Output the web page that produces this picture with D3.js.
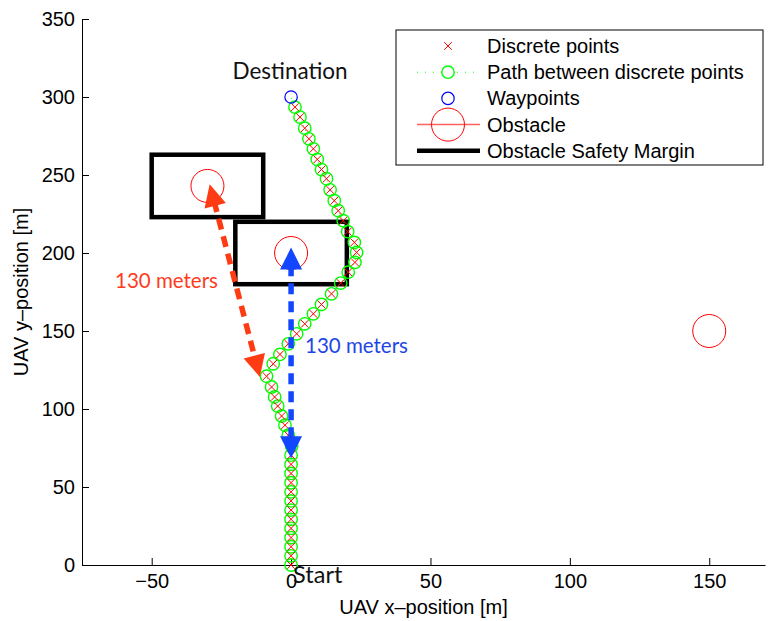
<!DOCTYPE html>
<html>
<head>
<meta charset="utf-8">
<script src="https://cdn.jsdelivr.net/npm/d3@7"></script>
<style>
  body { margin: 0; background: #fff; }
  svg { display: block; }
</style>
</head>
<body>
<svg id="chart" width="770" height="621"></svg>
<script>
// discrete points of the planned path [m]
const pathX = [0, 0, 0, 0, 0, 0, 0, 0, 0, 0, 0, 0, 0, 0.2,
  -1.0, -2.2, -3.4, -4.8, -5.9, -7.0, -8.8,
  -6.4, -4.0, -1.0, 2.0, 4.9, 8.0, 10.9, 14.5, 17.8, 20.5, 22.9, 23.5,
  22.7, 20.3, 18.7, 16.9, 15.5, 14.0, 12.7, 10.9, 9.4, 8.0, 6.4, 4.9, 3.2, 1.4];
const pathY = [0, 5.9, 11.7, 17.6, 23.5, 29.3, 35.2, 41.1, 46.9, 52.8, 58.7, 64.5, 70.4, 76.3,
  83.2, 89.6, 95.5, 101.9, 107.7, 114.1, 121.0,
  129.0, 135.0, 141.8, 148.2, 154.6, 161.0, 167.0, 173.8, 180.7, 187.7, 194.0, 200.4,
  206.8, 213.7, 220.7, 227.1, 233.5, 240.5, 247.6, 253.5, 260.0, 266.8, 273.2, 280.0, 287.1, 293.5];

const waypointX = [0];
const waypointY = [300];

const obstacleX = [-30, 0, 150];
const obstacleY = [243, 200, 150];

// safety margin boxes (lower-left corner, size) [m]
const marginX = [-50, -20];
const marginY = [223, 180];
const marginW = [40, 40];
const marginH = [40, 40];

// distance annotations: from (x1,y1) to (x2,y2)
const arrowX1 = [-29.2, 0];
const arrowY1 = [244, 203.5];
const arrowX2 = [-11.2, 0];
const arrowY2 = [120.5, 68.5];
const arrowColor = ["#ff3b14", "#1246ff"];

const xTicks = [-50, 0, 50, 100, 150];
const yTicks = [0, 50, 100, 150, 200, 250, 300, 350];

const legendLabels = ["Discrete points", "Path between discrete points", "Waypoints",
  "Obstacle", "Obstacle Safety Margin"];

const svg = d3.select("#chart");
const x = d3.scaleLinear().domain([-75, 170]).range([82, 765]);
const y = d3.scaleLinear().domain([0, 350]).range([565, 19]);

const axisFont = "'Liberation Sans', Arial, Helvetica, sans-serif";
const noteFont = "Lato, 'Open Sans', sans-serif";

// axes, matlab style: ticks pointing inside, no box
const gx = svg.append("g")
  .attr("transform", `translate(0,${y(0)})`)
  .call(d3.axisBottom(x).tickValues(xTicks).tickSizeInner(-7).tickSizeOuter(0).tickPadding(9));
const gy = svg.append("g")
  .attr("transform", `translate(${x(-75)},0)`)
  .call(d3.axisLeft(y).tickValues(yTicks).tickSizeInner(-7).tickSizeOuter(0).tickPadding(7));
[gx, gy].forEach(g => {
  g.selectAll("text").style("font-family", axisFont).style("font-size", "20px").attr("fill", "#000");
  g.select(".domain").attr("stroke", "#000");
});

svg.append("text")
  .attr("x", (x(-75) + x(170)) / 2).attr("y", 614)
  .attr("text-anchor", "middle")
  .style("font-family", axisFont).style("font-size", "20px")
  .text("UAV x\u2013position [m]");
svg.append("text")
  .attr("transform", `translate(28,${(y(0) + y(350)) / 2}) rotate(-90)`)
  .attr("text-anchor", "middle")
  .style("font-family", axisFont).style("font-size", "20px")
  .text("UAV y\u2013position [m]");

const plot = svg.append("g");

// safety margins
plot.selectAll("rect.margin")
  .data(marginX.map((d, i) => ({ x: d, y: marginY[i], w: marginW[i], h: marginH[i] })))
  .join("rect")
  .attr("class", "margin")
  .attr("x", d => x(d.x))
  .attr("y", d => y(d.y + d.h))
  .attr("width", d => x(d.x + d.w) - x(d.x))
  .attr("height", d => y(d.y) - y(d.y + d.h))
  .attr("fill", "none")
  .attr("stroke", "#000")
  .attr("stroke-width", 4.5);

// obstacles
plot.selectAll("circle.obs")
  .data(obstacleX.map((d, i) => [d, obstacleY[i]]))
  .join("circle")
  .attr("cx", d => x(d[0])).attr("cy", d => y(d[1]))
  .attr("r", 16.5)
  .attr("fill", "none").attr("stroke", "#ff0000").attr("stroke-width", 1);

// path between discrete points
const pts = pathX.map((d, i) => [d, pathY[i]]);
const fullPath = pts.concat(waypointX.map((d, i) => [d, waypointY[i]]));
plot.append("path")
  .attr("d", d3.line().x(d => x(d[0])).y(d => y(d[1]))(fullPath))
  .attr("fill", "none").attr("stroke", "#00ff00").attr("stroke-width", 1)
  .attr("stroke-dasharray", "1,4");

plot.selectAll("circle.pth")
  .data(pts)
  .join("circle")
  .attr("cx", d => x(d[0])).attr("cy", d => y(d[1]))
  .attr("r", 6.2)
  .attr("fill", "none").attr("stroke", "#00ff00").attr("stroke-width", 1.4);

function cross(g, cx, cy, s) {
  g.append("path")
    .attr("d", `M${cx - s},${cy - s}L${cx + s},${cy + s}M${cx - s},${cy + s}L${cx + s},${cy - s}`)
    .attr("stroke", "#ff0000").attr("stroke-width", 1).attr("fill", "none");
}
pts.forEach(d => cross(plot, x(d[0]), y(d[1]), 3.8));

// waypoints
plot.selectAll("circle.wp")
  .data(waypointX.map((d, i) => [d, waypointY[i]]))
  .join("circle")
  .attr("cx", d => x(d[0])).attr("cy", d => y(d[1]))
  .attr("r", 6.2)
  .attr("fill", "none").attr("stroke", "#0000ff").attr("stroke-width", 1.2);

// double headed dashed arrows
const headL = 22, headW = 22;
arrowX1.forEach((d, i) => {
  const p1 = [x(d), y(arrowY1[i])];
  const p2 = [x(arrowX2[i]), y(arrowY2[i])];
  const len = Math.hypot(p2[0] - p1[0], p2[1] - p1[1]);
  const ux = (p2[0] - p1[0]) / len, uy = (p2[1] - p1[1]) / len;
  plot.append("line")
    .attr("x1", p1[0] + ux * headL * 0.8).attr("y1", p1[1] + uy * headL * 0.8)
    .attr("x2", p2[0] - ux * headL * 0.8).attr("y2", p2[1] - uy * headL * 0.8)
    .attr("stroke", arrowColor[i]).attr("stroke-width", 5.5)
    .attr("stroke-dasharray", "11,7");
  // heads
  [[p1, -1], [p2, 1]].forEach(([tip, s]) => {
    const bx = tip[0] - s * ux * headL, by = tip[1] - s * uy * headL;
    const nx = -uy * headW / 2, ny = ux * headW / 2;
    plot.append("path")
      .attr("d", `M${tip[0]},${tip[1]}L${bx + nx},${by + ny}L${bx - nx},${by - ny}Z`)
      .attr("fill", arrowColor[i]);
  });
});

// annotation texts
svg.append("text").attr("x", 115).attr("y", 288)
  .style("font-family", noteFont).style("font-size", "20.5px").attr("fill", "#ff3b1e")
  .text("130 meters");
svg.append("text").attr("x", 305).attr("y", 353)
  .style("font-family", noteFont).style("font-size", "20.5px").attr("fill", "#1e46e6")
  .text("130 meters");
svg.append("text").attr("x", x(0) - 1).attr("y", 79)
  .attr("text-anchor", "middle")
  .style("font-family", noteFont).style("font-size", "22.5px").attr("fill", "#111")
  .text("Destination");
svg.append("text").attr("x", x(0) + 2).attr("y", 583)
  .style("font-family", noteFont).style("font-size", "23.5px").attr("fill", "#111")
  .text("Start");

// legend
const lg = svg.append("g").attr("transform", "translate(396,30)");
lg.append("rect").attr("width", 367).attr("height", 135)
  .attr("fill", "#fff").attr("stroke", "#000").attr("stroke-width", 1);
const rowY = i => 16 + i * 26.2;
const mx = 52;
legendLabels.forEach((t, i) => {
  lg.append("text").attr("x", 91).attr("y", rowY(i) + 7)
    .style("font-family", axisFont).style("font-size", "20px")
    .text(t);
});
cross(lg, mx, rowY(0), 3.8);
lg.append("line").attr("x1", 21).attr("x2", 84).attr("y1", rowY(1)).attr("y2", rowY(1))
  .attr("stroke", "#00ff00").attr("stroke-dasharray", "1,7");
lg.append("circle").attr("cx", mx).attr("cy", rowY(1)).attr("r", 6.2)
  .attr("fill", "#fff").attr("stroke", "#00ff00").attr("stroke-width", 1.4);
lg.append("circle").attr("cx", mx).attr("cy", rowY(2)).attr("r", 6.2)
  .attr("fill", "none").attr("stroke", "#0000ff").attr("stroke-width", 1.2);
lg.append("line").attr("x1", 21).attr("x2", 84).attr("y1", rowY(3)).attr("y2", rowY(3))
  .attr("stroke", "#ff6060").attr("stroke-width", 1.5);
lg.append("circle").attr("cx", mx).attr("cy", rowY(3)).attr("r", 16.5)
  .attr("fill", "none").attr("stroke", "#ff0000").attr("stroke-width", 1);
lg.append("line").attr("x1", 21).attr("x2", 84).attr("y1", rowY(4)).attr("y2", rowY(4))
  .attr("stroke", "#000").attr("stroke-width", 4.5);
</script>
</body>
</html>
